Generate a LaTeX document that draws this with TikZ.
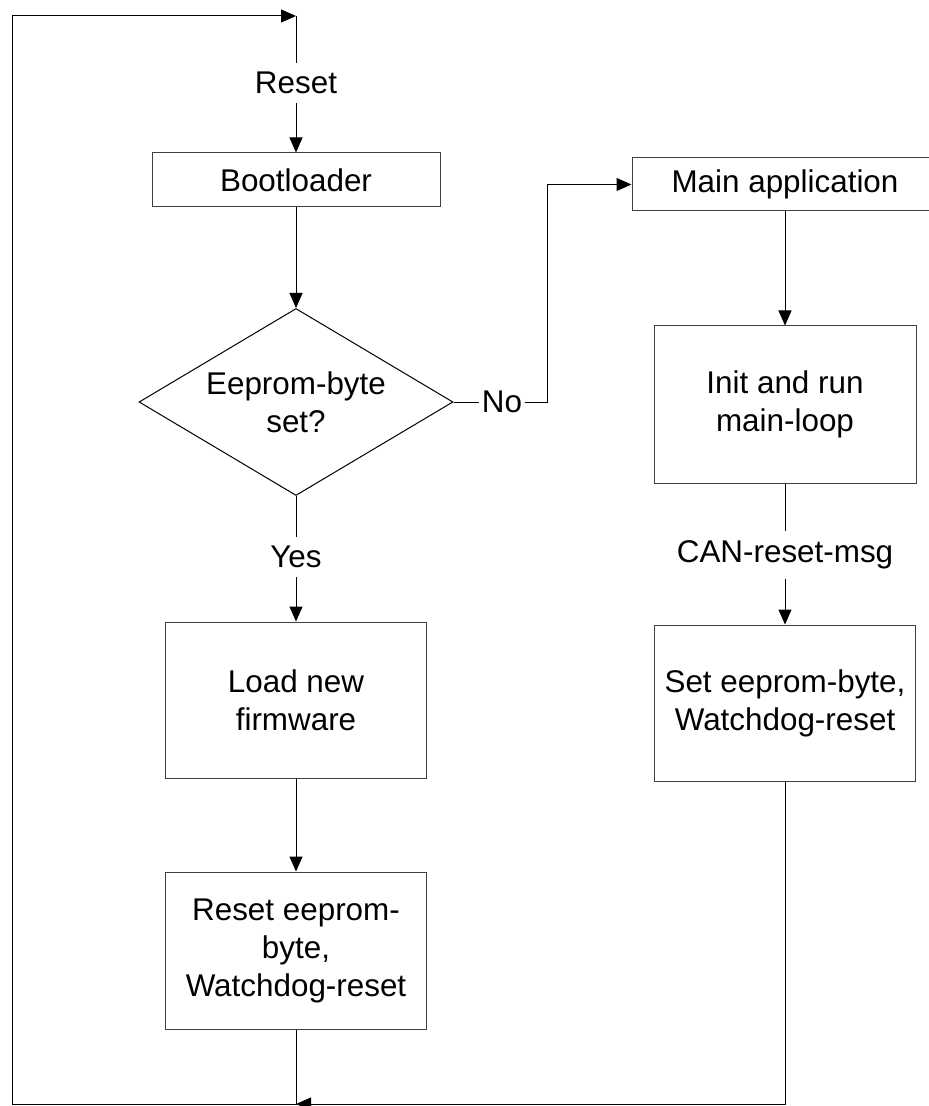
\documentclass[tikz,border=0pt]{standalone}
\usepackage{fontspec}
\setmainfont{Liberation Sans}
\usetikzlibrary{positioning,arrows.meta,shapes.geometric}

\begin{document}
\begin{tikzpicture}[x=.5pt,y=-.5pt,font=\fontsize{15.7}{19}\selectfont,
  box/.style={draw=black!75,align=center,inner sep=0pt},
  decide/.style={diamond,draw,align=center,inner sep=0pt,aspect=1.7,minimum width=157pt,minimum height=93.5pt},
  lbl/.style={inner xsep=1pt,inner ysep=4.5pt},
  arr/.style={-{Triangle[length=7.5pt,width=6.5pt]}},
  line width=.5pt]
\useasboundingbox (0,0) rectangle (929,1106);
% Left column: bootloader path.
\node[box,minimum width=144pt,minimum height=27pt] (boot) at (296,180) {Bootloader};
\node[decide] (dec) at (296,402) {Eeprom-byte\\set?};
\node[box,minimum width=130.5pt,minimum height=78pt] (load) at (296,700) {Load new\\firmware};
\node[box,minimum width=130.5pt,minimum height=78.5pt] (rst) at (296,950.5) {Reset eeprom-\\byte,\\Watchdog-reset};
% Right column: application path.
\node[box,minimum width=153pt,minimum height=26.5pt] (main) at (785,184.5) {Main application};
\node[box,minimum width=131pt,minimum height=78.5pt] (init) at (785,404.5) {Init and run\\main-loop};
\node[box,minimum width=130.5pt,minimum height=78pt] (setb) at (785,703) {Set eeprom-byte,\\Watchdog-reset};
% Edge labels.
\node[lbl] (lreset) at (296,83) {Reset};
\node[lbl] (lyes) at (296,557) {Yes};
\node[lbl] (lno) at (502,402) {No};
\node[lbl] (lcan) at (785,555) {CAN-reset-msg};
% Corners of the reset loop.
\coordinate (top) at (296,16);
\coordinate (bot) at (296,1104);
\coordinate (lt) at (12,16);
\coordinate (lb) at (12,1104);
\coordinate (nocorner) at (547,402);
% Connectors.
\draw (top) -- (lreset);
\draw[arr] (lreset) -- (boot);
\draw[arr] (boot) -- (dec);
\draw (dec) -- (lyes);
\draw[arr] (lyes) -- (load);
\draw[arr] (load) -- (rst);
\draw (dec) -- (lno);
\draw[arr] (lno) -- (nocorner) |- (main);
\draw[arr] (main) -- (init);
\draw (init) -- (lcan);
\draw[arr] (lcan) -- (setb);
\draw[arr] (setb) |- (bot);
\draw[arr] (rst) -- (bot) -- (lb) -- (lt) -- (top);
\end{tikzpicture}
\end{document}
